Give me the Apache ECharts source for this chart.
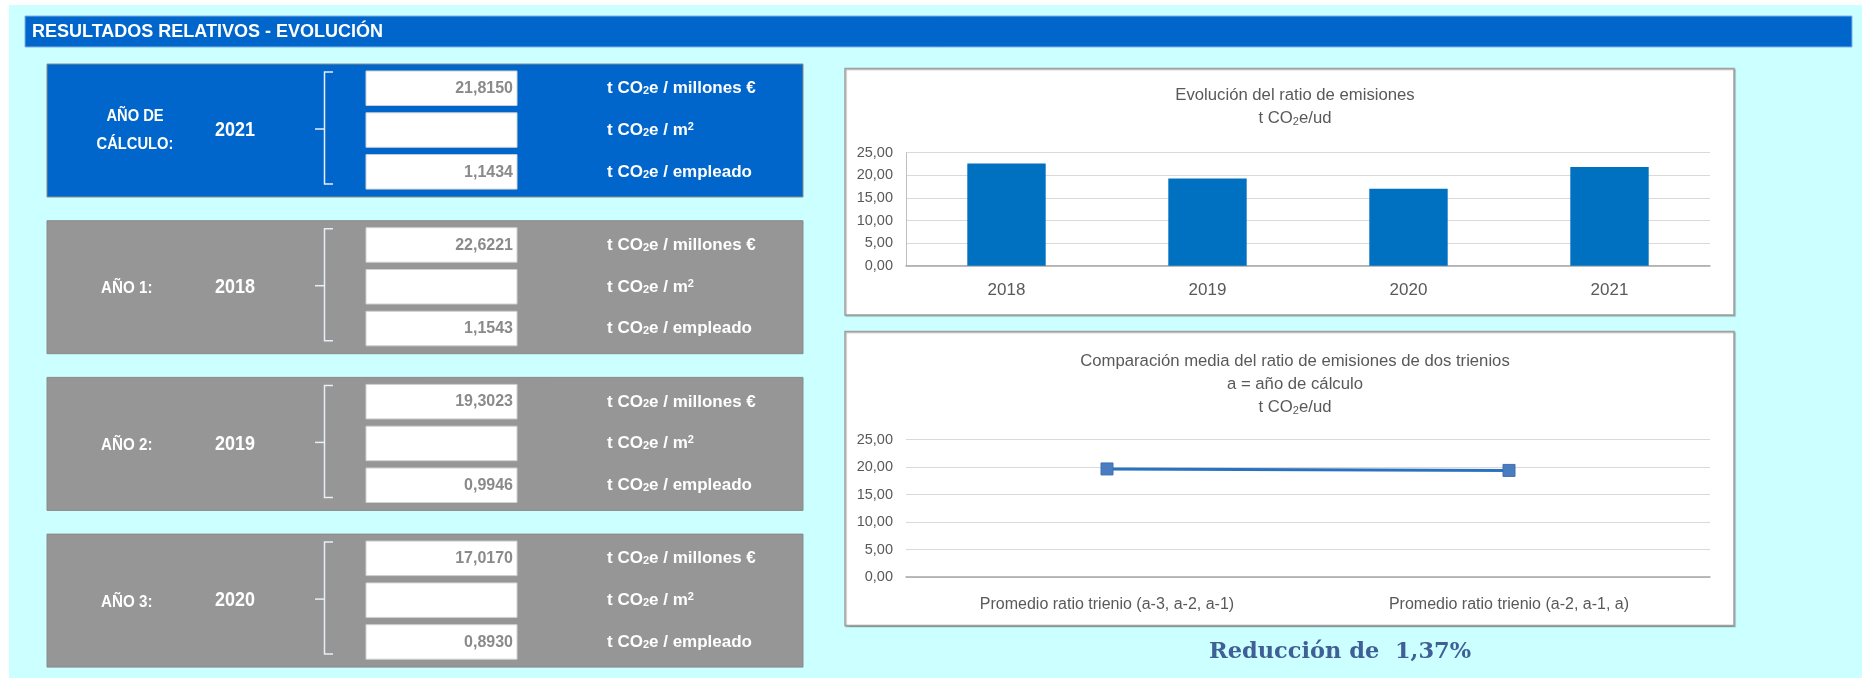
<!DOCTYPE html>
<html>
<head>
<meta charset="utf-8">
<script src="https://cdn.jsdelivr.net/npm/echarts@6/dist/echarts.min.js"></script>
<style>
html,body{margin:0;padding:0;background:#fff;}
#c{width:1862px;height:678px;}
</style>
</head>
<body>
<div id="c"></div>
<script>
// ---- data ----
const years = ['2018', '2019', '2020', '2021'];
const ratioMillones = [22.6221, 19.3023, 17.0170, 21.8150];
const ratioM2 = [null, null, null, null];
const ratioEmpleado = [1.1543, 0.9946, 0.8930, 1.1434];
const panelLabels = ['AÑO DE\nCÁLCULO:', 'AÑO 1:', 'AÑO 2:', 'AÑO 3:'];
const panelYearIndex = [3, 0, 1, 2];
const trienioCats = ['Promedio ratio trienio (a-3, a-2, a-1)', 'Promedio ratio trienio (a-2, a-1, a)'];
const trienioValues = [19.6471, 19.3781];
const reduccionText = 'Reducción de  1,37%';
const yMin = 0, yMax = 25, yInterval = 5;

// ---- styling ----
const F = "'Liberation Sans',Arial,sans-serif";
const BLUE = '#0066CC', GRAY = '#969696', CYAN = '#CCFFFF';
const fmt = (v, d) => v == null ? '' : v.toFixed(d).replace('.', ',');

const unitRich = {
  u: {fontFamily: F, fontSize: 17, fontWeight: 'bold', fill: '#fff', lineHeight: 22, verticalAlign: 'middle'},
  s: {fontFamily: F, fontSize: 11, fontWeight: 'bold', fill: '#fff', lineHeight: 11, verticalAlign: 'bottom', padding: [0, 0, 3, 0]},
  p: {fontFamily: F, fontSize: 11, fontWeight: 'bold', fill: '#fff', lineHeight: 11, verticalAlign: 'top', padding: [2, 0, 0, 0]}
};
const units = [
  '{u|t CO}{s|2}{u|e / millones €}',
  '{u|t CO}{s|2}{u|e / m}{p|2}',
  '{u|t CO}{s|2}{u|e / empleado}'
];

const g = [];
g.push({type: 'rect', z: -10, shape: {x: 9, y: 5, width: 1853, height: 673}, style: {fill: CYAN}});
g.push({type: 'rect', z: -9, shape: {x: 25, y: 16, width: 1827, height: 31}, style: {fill: BLUE, stroke: '#7fb2e6', lineWidth: 1}});
g.push({type: 'text', z: 5, x: 32, y: 32, style: {text: 'RESULTADOS RELATIVOS - EVOLUCIÓN', fontFamily: F, fontSize: 18, fontWeight: 'bold', fill: '#fff', verticalAlign: 'middle'}});

const panelTops = [64, 220.7, 377.4, 534.1];
panelTops.forEach((top, i) => {
  const yi = panelYearIndex[i];
  g.push({type: 'rect', z: -9, shape: {x: 47, y: top, width: 756, height: 133}, style: {fill: i === 0 ? BLUE : GRAY, stroke: '#8a8a8a', lineWidth: 1}});
  if (i === 0) {
    g.push({type: 'text', z: 5, x: 135, y: top + 67, scaleX: 0.92, style: {text: panelLabels[i], fontFamily: F, fontSize: 16, fontWeight: 'bold', fill: '#fff', align: 'center', verticalAlign: 'middle', lineHeight: 28}});
  } else {
    g.push({type: 'text', z: 5, x: 101, y: top + 68, scaleX: 0.92, style: {text: panelLabels[i], fontFamily: F, fontSize: 16.5, fontWeight: 'bold', fill: '#fff', align: 'left', verticalAlign: 'middle'}});
  }
  g.push({type: 'text', z: 5, x: 235, y: top + 67, scaleX: 0.92, style: {text: years[yi], fontFamily: F, fontSize: 19.5, fontWeight: 'bold', fill: '#fff', align: 'center', verticalAlign: 'middle'}});
  // bracket
  g.push({type: 'polyline', z: 5, shape: {points: [[333, top + 8], [324.5, top + 8], [324.5, top + 120], [333, top + 120]]}, style: {stroke: '#e8eef6', lineWidth: 1.5, fill: null}});
  g.push({type: 'line', z: 5, shape: {x1: 315, y1: top + 65, x2: 324.5, y2: top + 65}, style: {stroke: '#e8eef6', lineWidth: 1.5}});
  const vals = [ratioMillones[yi], ratioM2[yi], ratioEmpleado[yi]];
  for (let r = 0; r < 3; r++) {
    const by = top + 7 + r * 41.8;
    g.push({type: 'rect', z: 1, shape: {x: 366, y: by, width: 151, height: 34.5}, style: {fill: '#fff', stroke: '#d0d0d0', lineWidth: 1}});
    g.push({type: 'text', z: 5, x: 513, y: by + 17.5, style: {text: fmt(vals[r], 4), fontFamily: F, fontSize: 16, fontWeight: 'bold', fill: '#8a8a8a', align: 'right', verticalAlign: 'middle'}});
    g.push({type: 'text', z: 5, x: 607, y: by + 17.5, style: {text: units[r], rich: unitRich, verticalAlign: 'middle'}});
  }
});

// chart frames
g.push({type: 'rect', z: -8, shape: {x: 845, y: 68.5, width: 889, height: 246.5}, style: {fill: '#fff', stroke: '#a0a0a0', lineWidth: 1.5, shadowColor: 'rgba(0,0,0,0.25)', shadowOffsetX: 1, shadowOffsetY: 1, shadowBlur: 1}});
g.push({type: 'rect', z: -8, shape: {x: 845, y: 331.5, width: 889, height: 294}, style: {fill: '#fff', stroke: '#a0a0a0', lineWidth: 1.5, shadowColor: 'rgba(0,0,0,0.25)', shadowOffsetX: 1, shadowOffsetY: 1, shadowBlur: 1}});
g.push({type: 'text', z: 5, x: 1340, y: 652, style: {text: reduccionText, fontFamily: "'DejaVu Serif',serif", fontSize: 22.5, fontWeight: 'bold', fill: '#3f5f96', align: 'center', verticalAlign: 'middle'}});

const titleRich = {
  n: {fontFamily: F, fontSize: 16.7, fontWeight: 'normal', color: '#595959', lineHeight: 23, verticalAlign: 'middle'},
  s: {fontFamily: F, fontSize: 11, fontWeight: 'normal', color: '#595959', lineHeight: 11, verticalAlign: 'bottom', padding: [0, 0, 3, 0]}
};

const axisLabelFmt = v => fmt(v, 2);

const chart = echarts.init(document.getElementById('c'), null, {renderer: 'canvas'});
chart.setOption({
  backgroundColor: '#fff',
  animation: false,
  graphic: {elements: g},
  title: [
    {left: 1290, top: 79, textAlign: 'center', text: '{n|Evolución del ratio de emisiones}\n{n|t CO}{s|2}{n|e/ud}', textStyle: {fontWeight: 'normal', rich: titleRich}},
    {left: 1290, top: 345, textAlign: 'center', text: '{n|Comparación media del ratio de emisiones de dos trienios}\n{n|a = año de cálculo}\n{n|t CO}{s|2}{n|e/ud}', textStyle: {fontWeight: 'normal', rich: titleRich}}
  ],
  grid: [
    {left: 906, top: 152.7, width: 804, height: 113},
    {left: 906, top: 439.5, width: 804, height: 137.5}
  ],
  xAxis: [
    {type: 'category', gridIndex: 0, data: years, axisTick: {show: false},
     axisLine: {lineStyle: {color: '#a6a6a6', width: 1.5}},
     axisLabel: {fontFamily: F, fontSize: 17, color: '#595959', margin: 16}},
    {type: 'category', gridIndex: 1, data: trienioCats, axisTick: {show: false},
     axisLine: {lineStyle: {color: '#a6a6a6', width: 1.5}},
     axisLabel: {fontFamily: F, fontSize: 16, color: '#595959', margin: 20}}
  ],
  yAxis: [
    {type: 'value', gridIndex: 0, min: yMin, max: yMax, interval: yInterval,
     axisLine: {show: true, lineStyle: {color: '#bfbfbf'}}, axisTick: {show: false},
     splitLine: {lineStyle: {color: '#d9d9d9'}},
     axisLabel: {fontFamily: F, fontSize: 14.5, color: '#595959', formatter: axisLabelFmt, margin: 13}},
    {type: 'value', gridIndex: 1, min: yMin, max: yMax, interval: yInterval,
     axisLine: {show: false}, axisTick: {show: false},
     splitLine: {lineStyle: {color: '#d9d9d9'}},
     axisLabel: {fontFamily: F, fontSize: 14.5, color: '#595959', formatter: axisLabelFmt, margin: 13}}
  ],
  series: [
    {type: 'bar', xAxisIndex: 0, yAxisIndex: 0, data: ratioMillones, barWidth: '39%', itemStyle: {color: '#0070C0'}},
    {type: 'line', xAxisIndex: 1, yAxisIndex: 1, data: trienioValues, symbol: 'rect', symbolSize: 12,
     lineStyle: {color: '#2a72c0', width: 3}, itemStyle: {color: '#4a7cc0', borderColor: '#3f6fb5', borderWidth: 1}}
  ]
});
</script>
</body>
</html>
